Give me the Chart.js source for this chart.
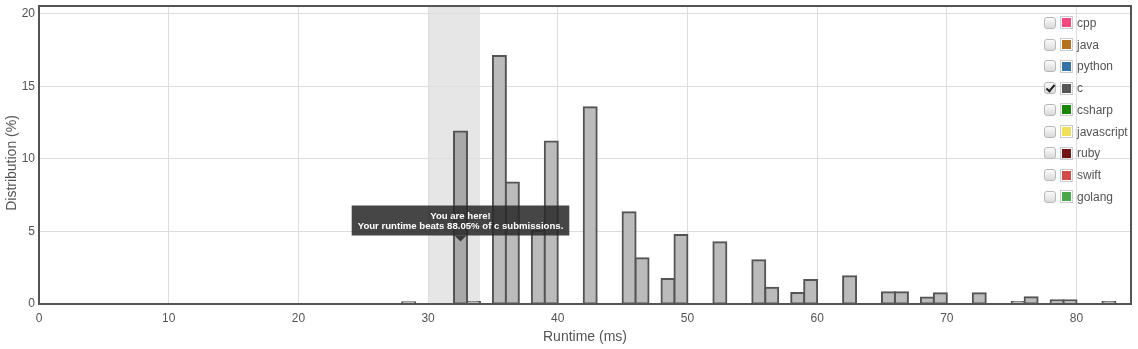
<!doctype html>
<html lang="en">
  <head>
    <meta charset="utf-8">
    <title>Runtime distribution</title>
    <style>
      * {
        margin: 0;
        padding: 0;
      }
      body {
        background: #fff;
        font-family: "Liberation Sans", Arial, sans-serif;
        overflow: hidden;
      }
      .chartBox {
        position: relative;
        width: 1138px;
        height: 349px;
      }
      .legend {
        position: absolute;
        left: 1044px;
        top: 12px;
      }
      .legend .row {
        height: 21.75px;
        display: flex;
        align-items: center;
        font-size: 12px;
        color: #545454;
      }
      .legend .check {
        position: relative;
        width: 10px;
        height: 10px;
        border: 1px solid #b8b8b8;
        border-radius: 3px;
        background: linear-gradient(#fbfbfb, #dadada);
        margin-right: 4px;
      }
      .legend .check.on::after {
        content: '';
        position: absolute;
        left: 3px;
        top: 0px;
        width: 3px;
        height: 7px;
        border: solid #222;
        border-width: 0 2px 2px 0;
        transform: rotate(40deg);
      }
      .legend .swatch {
        border: 1px solid #ccc;
        padding: 1px;
        margin-right: 4px;
      }
      .legend .swatch span {
        display: block;
        width: 9px;
        height: 9px;
      }
    </style>
  </head>
  <body>
    <div class="chartBox">
      <canvas id="myChart" width="1138" height="349"></canvas>
      <div class="legend" id="legend"></div>
    </div>
    <script src="https://cdn.jsdelivr.net/npm/chart.js/dist/chart.umd.min.js"></script>
    <script>
    // data
    const runtimes = [28, 32, 33, 35, 36, 38, 39, 42, 45, 46, 48, 49, 52, 55, 56, 58, 59, 62, 65, 66, 68, 69, 72, 75, 76, 78, 79, 82];
    const distribution = [0.12, 11.89, 0.14, 17.11, 8.37, 5.05, 11.2, 13.57, 6.33, 3.15, 1.73, 4.76, 4.26, 3.02, 1.12, 0.76, 1.66, 1.91, 0.81, 0.81, 0.44, 0.74, 0.74, 0.14, 0.46, 0.25, 0.25, 0.14];
    const xTicks = [0, 10, 20, 30, 40, 50, 60, 70, 80];
    const yTicks = [0, 5, 10, 15, 20];
    const languages = ['cpp', 'java', 'python', 'c', 'csharp', 'javascript', 'ruby', 'swift', 'golang'];
    const langColors = ['#f2497f', '#b5711e', '#3572a5', '#555555', '#178600', '#f1e05a', '#701516', '#d24b4b', '#4aa84a'];
    const selectedLang = 'c';
    const myRuntime = 32;
    const beatsPct = '88.05';
    const bandFrom = 30;
    const bandTo = 34;

    // legend
    const legendEl = document.getElementById('legend');
    languages.forEach((lang, i) => {
      const row = document.createElement('div');
      row.className = 'row';
      row.innerHTML = '<div class="check' + (lang === selectedLang ? ' on' : '') + '"></div>' +
        '<div class="swatch"><span style="background:' + langColors[i] + '"></span></div>' + lang;
      legendEl.appendChild(row);
    });

    const txtColor = '#545454';

    const decor = {
      id: 'decor',
      beforeDraw(chart) {
        const { ctx, chartArea, scales } = chart;
        const x1 = scales.x.getPixelForValue(bandFrom);
        const x2 = scales.x.getPixelForValue(bandTo);
        ctx.save();
        ctx.fillStyle = '#e6e6e6';
        ctx.fillRect(x1, chartArea.top, x2 - x1, chartArea.bottom - chartArea.top);
        ctx.restore();
      },
      afterDraw(chart) {
        const { ctx, chartArea, scales } = chart;
        ctx.save();
        // frame
        ctx.strokeStyle = txtColor;
        ctx.lineWidth = 2;
        ctx.strokeRect(chartArea.left, chartArea.top, chartArea.right - chartArea.left, chartArea.bottom - chartArea.top);

        // y title
        ctx.fillStyle = txtColor;
        ctx.font = '14px "Liberation Sans", Arial, sans-serif';
        ctx.textAlign = 'center';
        ctx.textBaseline = 'middle';
        ctx.translate(12.5, 163);
        ctx.rotate(-Math.PI / 2);
        ctx.fillText('Distribution (%)', 0, 0);
        ctx.restore();

        // "you are here" tip
        ctx.save();
        const cx = scales.x.getPixelForValue(myRuntime + 0.5);
        const line1 = 'You are here!';
        const line2 = 'Your runtime beats ' + beatsPct + '% of ' + selectedLang + ' submissions.';
        ctx.font = 'bold 9.6px "Liberation Sans", Arial, sans-serif';
        const w = Math.max(ctx.measureText(line1).width, ctx.measureText(line2).width) + 12;
        const top = 205.5, h = 30;
        ctx.fillStyle = 'rgba(40,40,40,0.86)';
        ctx.fillRect(cx - w / 2, top, w, h);
        ctx.beginPath();
        ctx.moveTo(cx - 6, top + h);
        ctx.lineTo(cx + 6, top + h);
        ctx.lineTo(cx, top + h + 6);
        ctx.closePath();
        ctx.fill();
        ctx.fillStyle = '#fff';
        ctx.textAlign = 'center';
        ctx.textBaseline = 'middle';
        ctx.fillText(line1, cx, top + 10.5);
        ctx.fillText(line2, cx, top + 21);
        ctx.restore();
      }
    };

    const config = {
      type: 'bar',
      data: {
        datasets: [{
          data: runtimes.map((r, i) => ({ x: r + 0.5, y: distribution[i] })),
          backgroundColor: runtimes.map(r => r === myRuntime ? '#a9a9a9' : '#bbbbbb'),
          borderColor: txtColor,
          borderWidth: 2,
          borderSkipped: false,
          inflateAmount: 1,
          barPercentage: 1,
          categoryPercentage: 1
        }]
      },
      options: {
        responsive: false,
        animation: false,
        devicePixelRatio: 1,
        layout: { padding: { top: 6, right: 7, left: 0, bottom: 0 } },
        plugins: { legend: { display: false }, tooltip: { enabled: false } },
        scales: {
          x: {
            type: 'linear',
            offset: false,
            min: 0,
            max: 84.2,
            afterFit: s => { s.height = 45; s.paddingLeft = 0; s.paddingRight = 0; },
            afterBuildTicks: s => { s.ticks = xTicks.map(v => ({ value: v })); },
            grid: { color: '#dddddd', drawTicks: false, offset: false },
            border: { display: false },
            ticks: { padding: 7, color: txtColor, font: { size: 12, family: '"Liberation Sans", Arial, sans-serif' }, maxRotation: 0 },
            title: { display: true, text: 'Runtime (ms)', color: txtColor, font: { size: 14, family: '"Liberation Sans", Arial, sans-serif' }, padding: { top: 0, bottom: 3 } }
          },
          y: {
            min: 0,
            max: 20.55,
            afterFit: s => { s.width = 39; s.paddingTop = 0; s.paddingBottom = 0; },
            afterBuildTicks: s => { s.ticks = yTicks.map(v => ({ value: v })); },
            grid: { color: '#dddddd', drawTicks: false },
            border: { display: false },
            ticks: { padding: 4, color: txtColor, font: { size: 12, family: '"Liberation Sans", Arial, sans-serif' } }
          }
        }
      },
      plugins: [decor]
    };

    const myChart = new Chart(document.getElementById('myChart'), config);
    </script>
  </body>
</html>
